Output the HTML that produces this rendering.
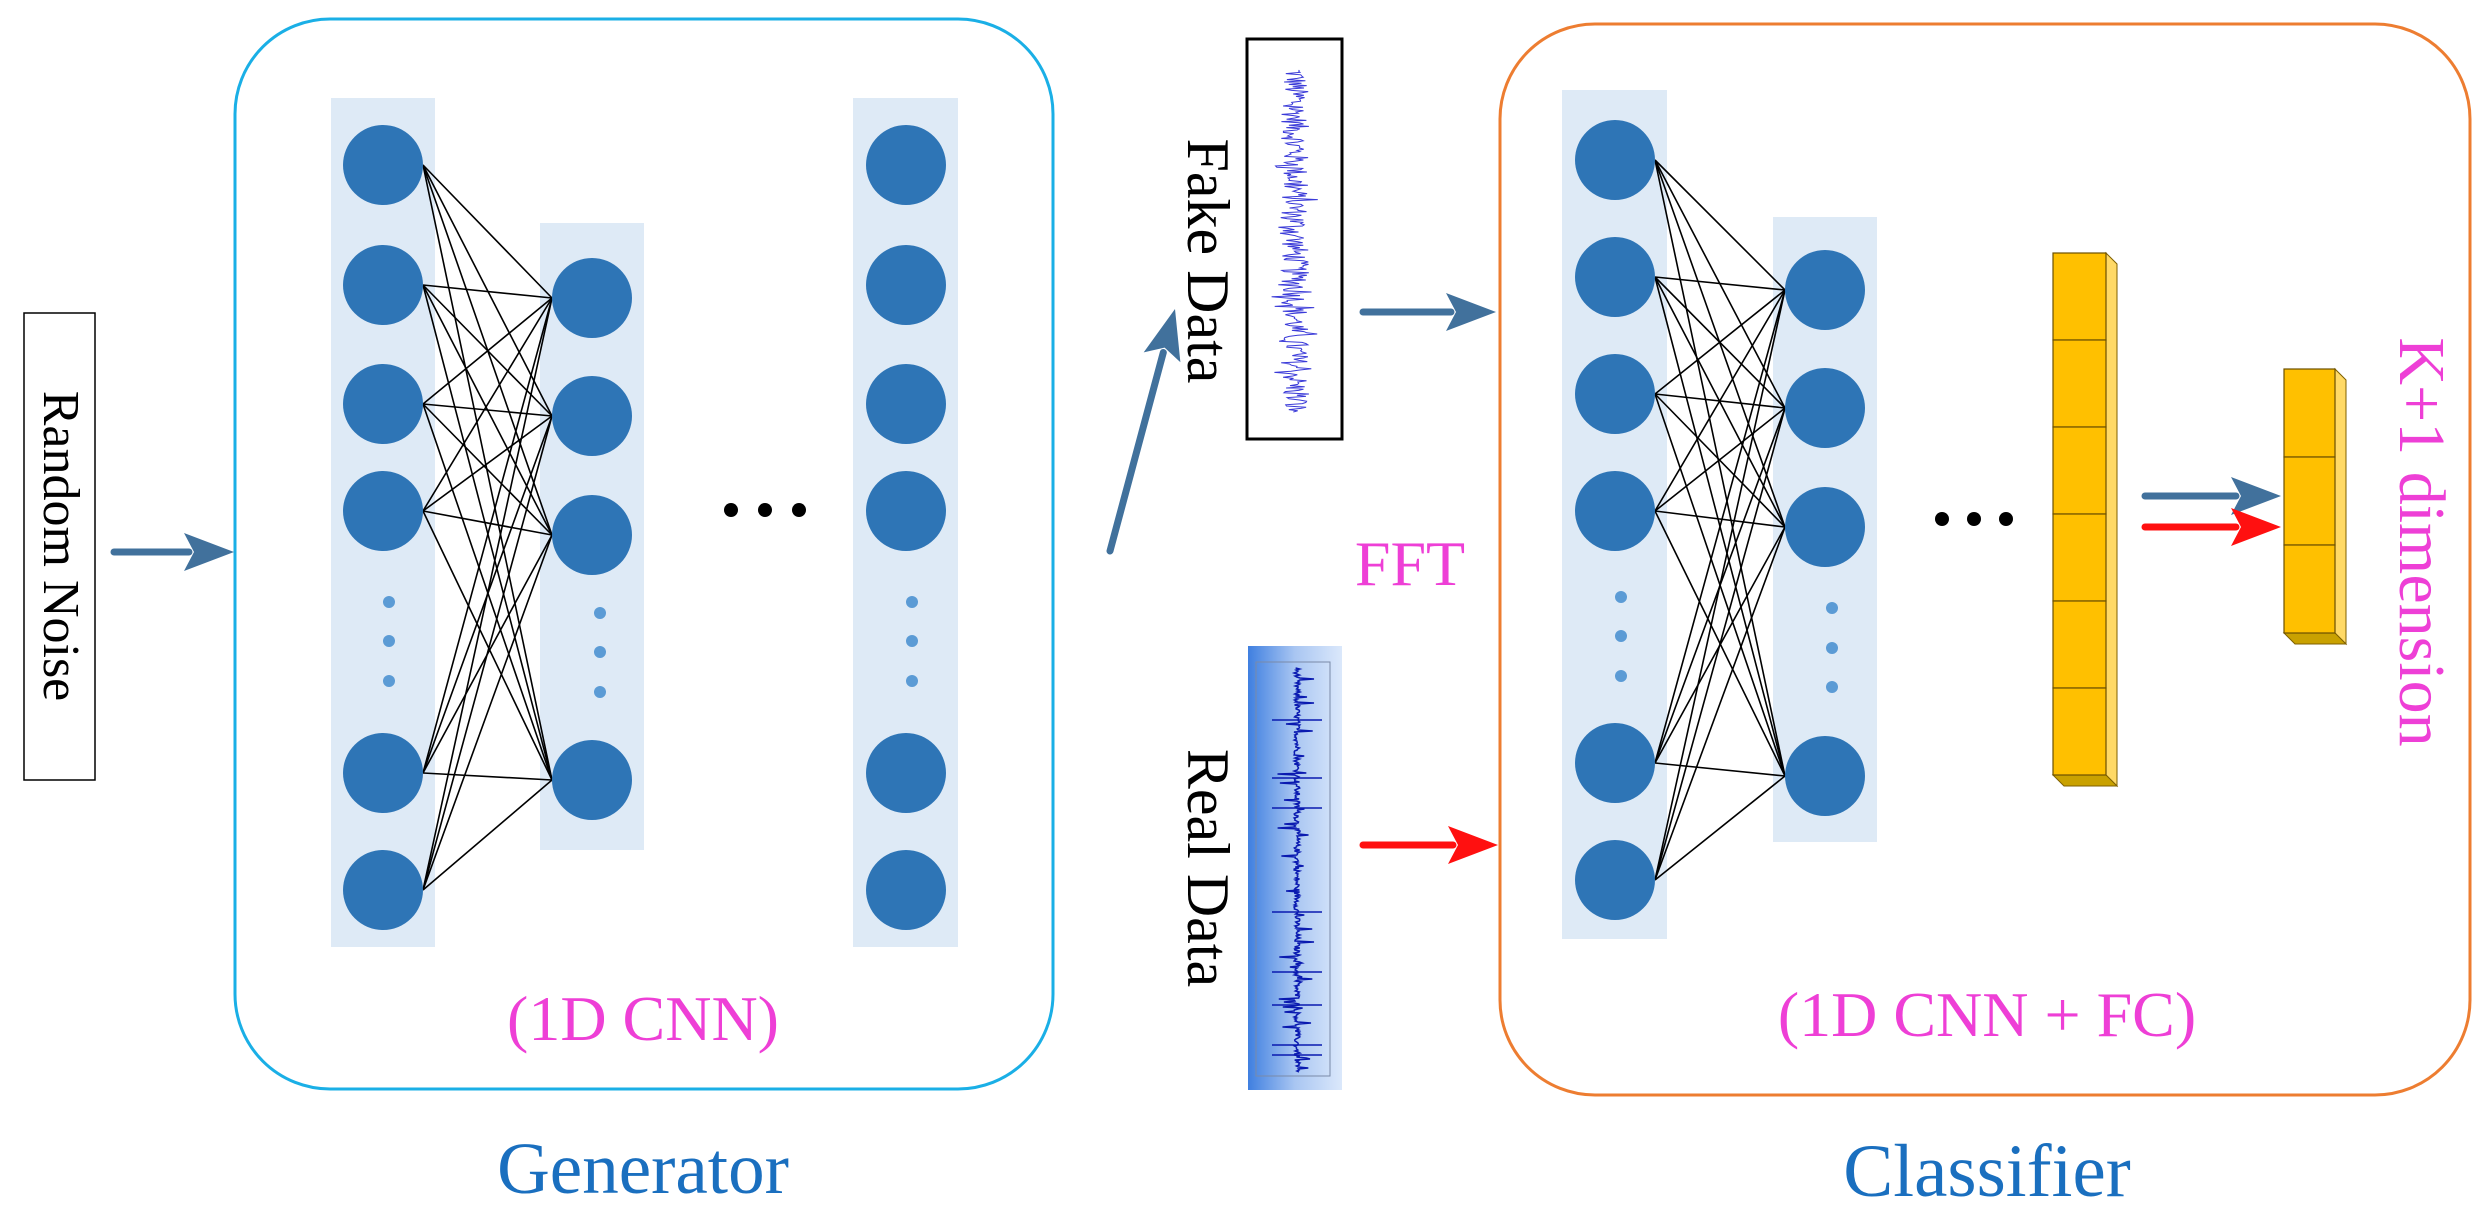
<!DOCTYPE html>
<html><head><meta charset="utf-8"><style>
html,body{margin:0;padding:0;background:#fff;}
svg{display:block;}
</style></head><body>
<svg id="s" width="2482" height="1221" viewBox="0 0 2482 1221" xmlns="http://www.w3.org/2000/svg" font-family="'Liberation Serif', serif">
<defs>
<linearGradient id="rg" x1="0" x2="1" y1="0" y2="0">
<stop offset="0" stop-color="#3f7fe0"/><stop offset="0.5" stop-color="#a9c6f2"/><stop offset="1" stop-color="#dbe8fb"/>
</linearGradient>
</defs>
<rect x="235" y="19" width="818" height="1070" rx="95" fill="none" stroke="#1aafe6" stroke-width="3"/>
<rect x="1500" y="24" width="970" height="1071" rx="95" fill="none" stroke="#ed7d31" stroke-width="3"/>
<rect x="24" y="313" width="71" height="467" fill="#fff" stroke="#000" stroke-width="1.5"/>
<text transform="translate(44,546) rotate(90)" text-anchor="middle" font-size="52" fill="#000" font-family="'Liberation Serif', serif">Random Noise</text>
<rect x="1247" y="39" width="95" height="400" fill="#fff" stroke="#000" stroke-width="3"/>
<rect x="1248" y="646" width="94" height="444" fill="url(#rg)"/>
<rect x="1256" y="662" width="74" height="414" fill="none" stroke="#7a8aa8" stroke-width="1"/>
<g id="g"></g>
<text x="643" y="1040" text-anchor="middle" font-size="64" fill="#ee3fd6" font-family="'Liberation Serif', serif">(1D CNN)</text>
<text x="643" y="1193" text-anchor="middle" font-size="73" fill="#1a6fbf" font-family="'Liberation Serif', serif">Generator</text>
<text x="1987" y="1036" text-anchor="middle" font-size="64" fill="#ee3fd6" font-family="'Liberation Serif', serif">(1D CNN + FC)</text>
<text x="1987" y="1196" text-anchor="middle" font-size="75" fill="#1a6fbf" font-family="'Liberation Serif', serif">Classifier</text>
<text x="1410" y="585" text-anchor="middle" font-size="64" fill="#ee3fd6" font-family="'Liberation Serif', serif">FFT</text>
<text transform="translate(1188,261) rotate(90)" text-anchor="middle" font-size="60" fill="#000" font-family="'Liberation Serif', serif">Fake Data</text>
<text transform="translate(1188,868) rotate(90)" text-anchor="middle" font-size="60" fill="#000" font-family="'Liberation Serif', serif">Real Data</text>
<text transform="translate(2400,542) rotate(90)" text-anchor="middle" font-size="66" fill="#ee3fd6" font-family="'Liberation Serif', serif">K+1 dimension</text>
</svg>
<script>
(function(){
var NS="http://www.w3.org/2000/svg",g=document.getElementById("g");
function el(t,a){var e=document.createElementNS(NS,t);for(var k in a)e.setAttribute(k,a[k]);g.appendChild(e);return e;}
function arrow(x1,y1,x2,y2,c){
 var dx=x2-x1,dy=y2-y1,L=Math.sqrt(dx*dx+dy*dy),ux=dx/L,uy=dy/L,h=50,w=19;
 var bx=x2-ux*h,by=y2-uy*h;
 el("line",{x1:x1,y1:y1,x2:bx+ux*5,y2:by+uy*5,stroke:c,"stroke-width":7,"stroke-linecap":"round"});
 el("polygon",{points:x2+","+y2+" "+(bx-uy*w)+","+(by+ux*w)+" "+(bx+ux*10)+","+(by+uy*10)+" "+(bx+uy*w)+","+(by-ux*w),fill:c});
}
var B="#41719c",R="#ff1010";
arrow(114,552,234,552,B);
arrow(1110,551,1175,309,B);
arrow(1363,312,1496,312,B);
arrow(1363,845,1498,845,R);
arrow(2145,496,2281,496,B);
arrow(2145,527,2281,527,R);
function net(c1x,c2x,c3x,ys1,ys2,bgs,dots1,dots2,dots3){
 bgs.forEach(function(b){el("rect",{x:b[0],y:b[1],width:b[2]-b[0],height:b[3]-b[1],fill:"#deeaf6"});});
 ys1.forEach(function(a){ys2.forEach(function(b){el("line",{x1:c1x+40,y1:a,x2:c2x-40,y2:b,stroke:"#000","stroke-width":1.6});});});
 function circ(x,y){el("circle",{cx:x,cy:y,r:40,fill:"#2e75b6"});}
 ys1.forEach(function(y){circ(c1x,y);});ys2.forEach(function(y){circ(c2x,y);});
 if(c3x)ys1.forEach(function(y){circ(c3x,y);});
 [dots1,dots2,dots3].forEach(function(d){if(d)d[1].forEach(function(y){el("circle",{cx:d[0],cy:y,r:6,fill:"#5b9bd5"});});});
}
net(383,592,906,[165,285,404,511,773,890],[298,416,535,780],
 [[331,98,435,947],[540,223,644,850],[853,98,958,947]],[389,[602,641,681]],[600,[613,652,692]],[912,[602,641,681]]);
net(1615,1825,null,[160,277,394,511,763,880],[290,408,527,776],
 [[1562,90,1667,939],[1773,217,1877,842]],[1621,[597,636,676]],[1832,[608,648,687]],null);
[[731,510],[765,510],[799,510],[1942,519],[1974,519],[2006,519]].forEach(function(p){el("circle",{cx:p[0],cy:p[1],r:7,fill:"#000"});});
function bar(x,y,w,ch,n){
 var d=11,H=ch*n;
 el("polygon",{points:(x+w)+","+y+" "+(x+w+d)+","+(y+d)+" "+(x+w+d)+","+(y+H+d)+" "+(x+w)+","+(y+H),fill:"#ffd966",stroke:"#7f6000","stroke-width":1});
 el("polygon",{points:x+","+(y+H)+" "+(x+w)+","+(y+H)+" "+(x+w+d)+","+(y+H+d)+" "+(x+d)+","+(y+H+d),fill:"#c9a100",stroke:"#7f6000","stroke-width":1});
 for(var i=0;i<n;i++)el("rect",{x:x,y:y+i*ch,width:w,height:ch,fill:"#ffc000",stroke:"#6b5000","stroke-width":1.2});
}
bar(2053,253,53,87,6);
bar(2284,369,51,88,3);
var s=12345;function rnd(){s=(s*1103515245+12345)%2147483648;return s/2147483648;}
var p="";for(var y=70;y<=412;y+=1.2){p+=(1295+(rnd()-0.5)*(rnd()<0.15?48:28)).toFixed(1)+","+y.toFixed(1)+" ";}
el("polyline",{points:p,fill:"none",stroke:"#3a3ad8","stroke-width":1});
var q="";for(var y=668;y<=1072;y+=1){var a=(rnd()-0.5)*(rnd()<0.08?40:6);q+=(1297+a).toFixed(1)+","+y+" ";}
el("polyline",{points:q,fill:"none",stroke:"#0a1ab0","stroke-width":1.5});
[720,778,808,912,972,1005,1045,1055].forEach(function(y){el("line",{x1:1272,y1:y,x2:1322,y2:y,stroke:"#0a1ab0","stroke-width":1.5});});
})();
</script>
</body></html>
